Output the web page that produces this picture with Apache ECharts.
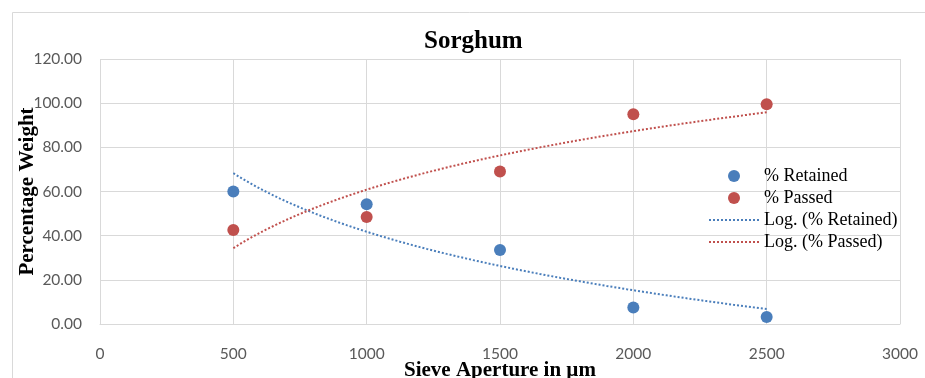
<!DOCTYPE html>
<html>
<head>
<meta charset="utf-8">
<script src="https://cdn.jsdelivr.net/npm/echarts@6/dist/echarts.min.js"></script>
<style>
html,body{margin:0;padding:0;background:#fff;}
#chart{width:925px;height:378px;}
</style>
</head>
<body>
<div id="chart"></div>
<script>
var apertures = [500, 1000, 1500, 2000, 2500];
var retained = [60.0, 54.2, 33.5, 7.5, 3.2];
var passed = [42.6, 48.5, 69.1, 95.0, 99.5];
var yTicks = [0, 20, 40, 60, 80, 100, 120];
var xTicks = [0, 500, 1000, 1500, 2000, 2500, 3000];

// Logarithmic least-squares trendline (y = a + b ln x), as in the original chart
function logFit(xs, ys) {
  var n = xs.length, lx = xs.map(function(v){return Math.log(v);});
  var mx = lx.reduce(function(s,v){return s+v;},0)/n;
  var my = ys.reduce(function(s,v){return s+v;},0)/n;
  var sxy = 0, sxx = 0;
  for (var i = 0; i < n; i++) { sxy += (lx[i]-mx)*(ys[i]-my); sxx += (lx[i]-mx)*(lx[i]-mx); }
  var b = sxy/sxx, a = my - b*mx;
  var pts = [], x0 = xs[0], x1 = xs[n-1];
  for (var k = 0; k <= 80; k++) { var x = x0 + (x1-x0)*k/80; pts.push([x, a + b*Math.log(x)]); }
  return pts;
}

var blue = '#4a7ebb', red = '#c0504d';
var chart = echarts.init(document.getElementById('chart'));
chart.setOption({
  animation: false,
  backgroundColor: '#fff',
  title: {
    text: 'Sorghum', left: 419, top: 24,
    textStyle: {fontFamily: 'Liberation Serif', fontWeight: 'bold', fontSize: 25, color: '#000'}
  },
  graphic: [{
    type: 'rect', left: 10, top: 10,
    shape: {x: 0.5, y: 0.5, width: 1000, height: 1000},
    style: {fill: 'none', stroke: '#d9d9d9', lineWidth: 1}, silent: true, z: -1
  }],
  grid: {left: 100, right: 25, top: 59, bottom: 54, outerBoundsMode: 'none', containLabel: false},
  legend: {
    orient: 'vertical', left: 703, top: 162, itemWidth: 50, itemHeight: 12, itemGap: 4,
    textStyle: {fontFamily: 'Liberation Serif', fontSize: 18, color: '#000'},
    data: [
      {name: '% Retained'},
      {name: '% Passed'},
      {name: 'Log. (% Retained)', itemStyle: {color: 'rgba(0,0,0,0)', borderWidth: 0}},
      {name: 'Log. (% Passed)', itemStyle: {color: 'rgba(0,0,0,0)', borderWidth: 0}}
    ]
  },
  xAxis: {
    type: 'value', min: 0, max: 3000, interval: 500,
    name: 'Sieve Aperture in µm', nameLocation: 'middle', nameGap: 36, nameMoveOverlap: false,
    nameTextStyle: {fontFamily: 'Liberation Serif', fontWeight: 'bold', fontSize: 21, color: '#000'},
    axisLine: {show: true, lineStyle: {color: '#d9d9d9'}},
    axisTick: {show: false},
    axisLabel: {fontFamily: 'Lato', fontSize: 15.5, color: '#595959', margin: 22,
      formatter: function(v){ return String(v); }},
    splitLine: {show: true, lineStyle: {color: '#d9d9d9'}}
  },
  yAxis: {
    type: 'value', min: 0, max: 120, interval: 20,
    name: 'Percentage Weight', nameLocation: 'middle', nameGap: 62, nameRotate: 90, nameMoveOverlap: false,
    nameTextStyle: {fontFamily: 'Liberation Serif', fontWeight: 'bold', fontSize: 21, color: '#000'},
    axisLine: {show: false},
    axisTick: {show: false},
    axisLabel: {fontFamily: 'Lato', fontSize: 15.5, color: '#595959', margin: 18,
      formatter: function(v){ return v.toFixed(2); }},
    splitLine: {show: true, lineStyle: {color: '#d9d9d9'}}
  },
  series: [
    {name: '% Retained', type: 'scatter', symbolSize: 12, itemStyle: {color: blue, opacity: 1},
     data: apertures.map(function(x,i){return [x, retained[i]];}), z: 3},
    {name: '% Passed', type: 'scatter', symbolSize: 12, itemStyle: {color: red, opacity: 1},
     data: apertures.map(function(x,i){return [x, passed[i]];}), z: 3},
    {name: 'Log. (% Retained)', type: 'line', showSymbol: false, symbol: 'none',
     lineStyle: {color: blue, width: 2, type: [2, 2]}, itemStyle: {color: blue},
     data: logFit(apertures, retained), z: 2},
    {name: 'Log. (% Passed)', type: 'line', showSymbol: false, symbol: 'none',
     lineStyle: {color: red, width: 2, type: [2, 2]}, itemStyle: {color: red},
     data: logFit(apertures, passed), z: 2}
  ]
});
</script>
</body>
</html>
